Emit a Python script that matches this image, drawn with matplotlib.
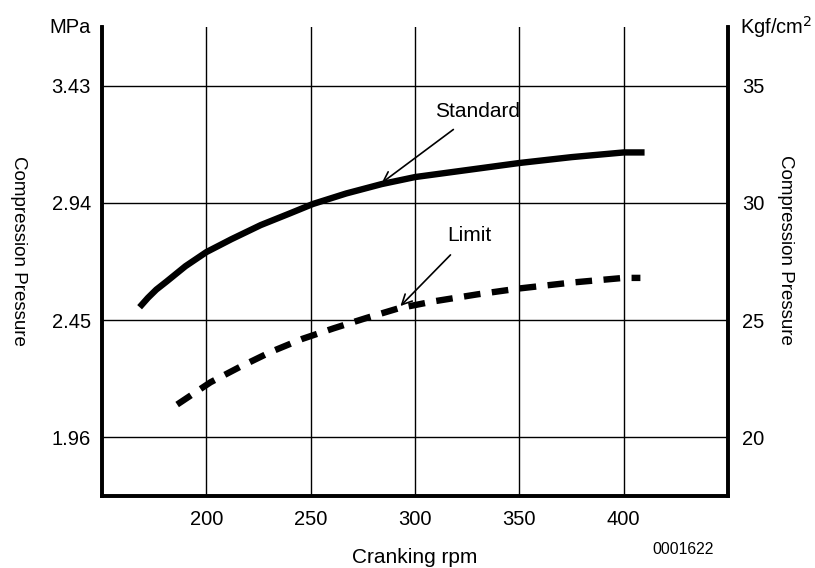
import matplotlib.pyplot as plt
import numpy as np

plt.rcParams['font.family'] = ['Liberation Sans', 'DejaVu Sans']

# data (rpm, kgf/cm2)
std_rpm = [168, 172, 176, 181, 190, 200, 212, 226, 240, 251, 267, 284, 300,
           325, 350, 375, 400, 410]
std_kgf = [25.55, 25.95, 26.3, 26.65, 27.3, 27.9, 28.45, 29.05, 29.55, 29.95,
           30.4, 30.8, 31.1, 31.4, 31.7, 31.95, 32.15, 32.15]
lim_rpm = [186, 202, 216, 231, 246, 261, 277, 292, 309, 330, 350, 375, 400, 408]
lim_kgf = [21.4, 22.35, 23.0, 23.65, 24.2, 24.65, 25.1, 25.5, 25.8, 26.1,
           26.35, 26.6, 26.8, 26.8]

x_ticks = [200, 250, 300, 350, 400]
kgf_ticks = [20, 25, 30, 35]
mpa_labels = ['1.96', '2.45', '2.94', '3.43']

fig = plt.figure(figsize=(8.15, 5.68), dpi=100)
ax = fig.add_axes([0.1252, 0.1268, 0.7681, 0.8257])

ax.plot(std_rpm, std_kgf, color='black', lw=4.6, solid_capstyle='butt',
        solid_joinstyle='round')
ax.plot(lim_rpm, lim_kgf, color='black', lw=4.6, linestyle=(0, (2.6, 1.8)),
        dash_capstyle='butt', dash_joinstyle='round')

ax.set_xlim(150, 450)
ax.set_ylim(17.5, 37.5)
ax.set_xticks(x_ticks)
ax.set_yticks(kgf_ticks)
ax.set_yticklabels(mpa_labels)
ax.grid(True, color='black', lw=1.0)
ax.set_axisbelow(True)

ax2 = ax.twinx()
ax2.set_ylim(17.5, 37.5)
ax2.set_yticks(kgf_ticks)

for a in (ax, ax2):
    a.spines['top'].set_visible(False)
    for s in ('left', 'right', 'bottom'):
        a.spines[s].set_linewidth(2.6)
    a.tick_params(length=0, labelsize=14.5)
ax.tick_params(axis='y', pad=8)
ax.tick_params(axis='x', pad=10)
ax2.tick_params(axis='y', pad=10)

ax.set_xlabel('Cranking rpm', fontsize=15, labelpad=14)
ax.set_ylabel('Compression Pressure', fontsize=13.5, rotation=-90,
              va='center', ha='center')
ax.yaxis.set_label_coords(-0.134, 0.522)
ax2.set_ylabel('Compression Pressure', fontsize=13.5, rotation=-90,
               va='center', ha='center')
ax2.yaxis.set_label_coords(1.091, 0.524)

fig.text(0.111, 0.952, 'MPa', fontsize=14.5, ha='right', va='center')
fig.text(0.908, 0.952, 'Kgf/cm$^2$', fontsize=14.5, ha='left', va='center')
fig.text(0.838, 0.02, '0001622', fontsize=11.3, ha='center', va='bottom')

ax.annotate('Standard', xy=(284, 30.85), xytext=(330, 33.9), fontsize=15,
            ha='center', va='center',
            arrowprops=dict(arrowstyle='->', color='black', lw=1.2,
                            shrinkA=7, shrinkB=0, mutation_scale=18))
ax.annotate('Limit', xy=(293, 25.6), xytext=(326, 28.6), fontsize=15,
            ha='center', va='center',
            arrowprops=dict(arrowstyle='->', color='black', lw=1.2,
                            shrinkA=7, shrinkB=0, mutation_scale=18))

fig.savefig('out.png', dpi=100)
